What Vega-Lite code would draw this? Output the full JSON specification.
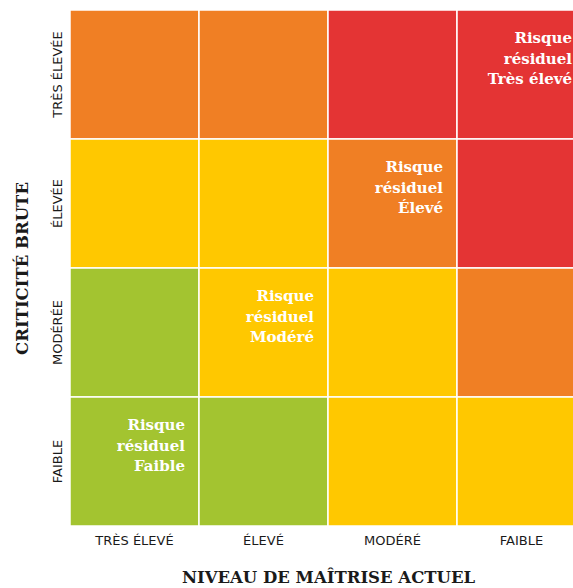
{
  "$schema": "https://vega.github.io/schema/vega-lite/v6.json",
  "autosize": {"type": "none"},
  "padding": {"left": 70, "top": 10, "right": -13, "bottom": 62},
  "width": 516,
  "height": 516,
  "background": "white",
  "config": {"view": {"stroke": null}},
  "data": {
    "values": [
      {"maitrise": "TRÈS ÉLEVÉ", "criticite": "TRÈS ÉLEVÉE", "niveau": "Élevé", "label": ""},
      {"maitrise": "ÉLEVÉ", "criticite": "TRÈS ÉLEVÉE", "niveau": "Élevé", "label": ""},
      {"maitrise": "MODÉRÉ", "criticite": "TRÈS ÉLEVÉE", "niveau": "Très élevé", "label": ""},
      {"maitrise": "FAIBLE", "criticite": "TRÈS ÉLEVÉE", "niveau": "Très élevé", "label": "Risque\nrésiduel\nTrès élevé"},
      {"maitrise": "TRÈS ÉLEVÉ", "criticite": "ÉLEVÉE", "niveau": "Modéré", "label": ""},
      {"maitrise": "ÉLEVÉ", "criticite": "ÉLEVÉE", "niveau": "Modéré", "label": ""},
      {"maitrise": "MODÉRÉ", "criticite": "ÉLEVÉE", "niveau": "Élevé", "label": "Risque\nrésiduel\nÉlevé"},
      {"maitrise": "FAIBLE", "criticite": "ÉLEVÉE", "niveau": "Très élevé", "label": ""},
      {"maitrise": "TRÈS ÉLEVÉ", "criticite": "MODÉRÉE", "niveau": "Faible", "label": ""},
      {"maitrise": "ÉLEVÉ", "criticite": "MODÉRÉE", "niveau": "Modéré", "label": "Risque\nrésiduel\nModéré"},
      {"maitrise": "MODÉRÉ", "criticite": "MODÉRÉE", "niveau": "Modéré", "label": ""},
      {"maitrise": "FAIBLE", "criticite": "MODÉRÉE", "niveau": "Élevé", "label": ""},
      {"maitrise": "TRÈS ÉLEVÉ", "criticite": "FAIBLE", "niveau": "Faible", "label": "Risque\nrésiduel\nFaible"},
      {"maitrise": "ÉLEVÉ", "criticite": "FAIBLE", "niveau": "Faible", "label": ""},
      {"maitrise": "MODÉRÉ", "criticite": "FAIBLE", "niveau": "Modéré", "label": ""},
      {"maitrise": "FAIBLE", "criticite": "FAIBLE", "niveau": "Modéré", "label": ""}
    ]
  },
  "encoding": {
    "x": {
      "field": "maitrise", "type": "nominal",
      "sort": ["TRÈS ÉLEVÉ", "ÉLEVÉ", "MODÉRÉ", "FAIBLE"],
      "scale": {"paddingInner": 0, "paddingOuter": 0},
      "axis": {
        "title": "NIVEAU DE MAÎTRISE ACTUEL",
        "titleFont": "DejaVu Serif", "titleFontWeight": "bold", "titleFontSize": 16.5, "titleColor": "#1a1a1a",
        "titlePadding": 22,
        "labelAngle": 0, "labelFont": "DejaVu Sans", "labelFontSize": 13, "labelColor": "#1a1a1a",
        "labelPadding": 8, "ticks": false, "domain": false, "grid": false
      }
    },
    "y": {
      "field": "criticite", "type": "nominal",
      "sort": ["TRÈS ÉLEVÉE", "ÉLEVÉE", "MODÉRÉE", "FAIBLE"],
      "scale": {"paddingInner": 0, "paddingOuter": 0},
      "axis": {
        "title": "CRITICITÉ BRUTE",
        "titleFont": "DejaVu Serif", "titleFontWeight": "bold", "titleFontSize": 16.5, "titleColor": "#1a1a1a",
        "titlePadding": 21,
        "labelAngle": 270, "labelAlign": "center", "labelBaseline": "bottom",
        "labelFont": "DejaVu Sans", "labelFontSize": 13, "labelColor": "#1a1a1a",
        "labelPadding": 6, "ticks": false, "domain": false, "grid": false
      }
    }
  },
  "layer": [
    {
      "mark": {"type": "rect", "stroke": "white", "strokeWidth": 1.5},
      "encoding": {
        "color": {
          "field": "niveau", "type": "nominal",
          "scale": {"domain": ["Faible", "Modéré", "Élevé", "Très élevé"], "range": ["#A3C430", "#FFC800", "#F07F24", "#E43434"]},
          "legend": null
        }
      }
    },
    {
      "mark": {"type": "text", "align": "right", "baseline": "alphabetic", "dx": -14, "dy": 33, "lineBreak": "\n", "lineHeight": 20.5, "font": "DejaVu Serif", "fontWeight": "bold", "fontSize": 15, "color": "white"},
      "encoding": {
        "x": {"field": "maitrise", "type": "nominal", "sort": ["TRÈS ÉLEVÉ", "ÉLEVÉ", "MODÉRÉ", "FAIBLE"], "bandPosition": 1},
        "y": {"field": "criticite", "type": "nominal", "sort": ["TRÈS ÉLEVÉE", "ÉLEVÉE", "MODÉRÉE", "FAIBLE"], "bandPosition": 0},
        "text": {"field": "label"}
      }
    }
  ]
}
